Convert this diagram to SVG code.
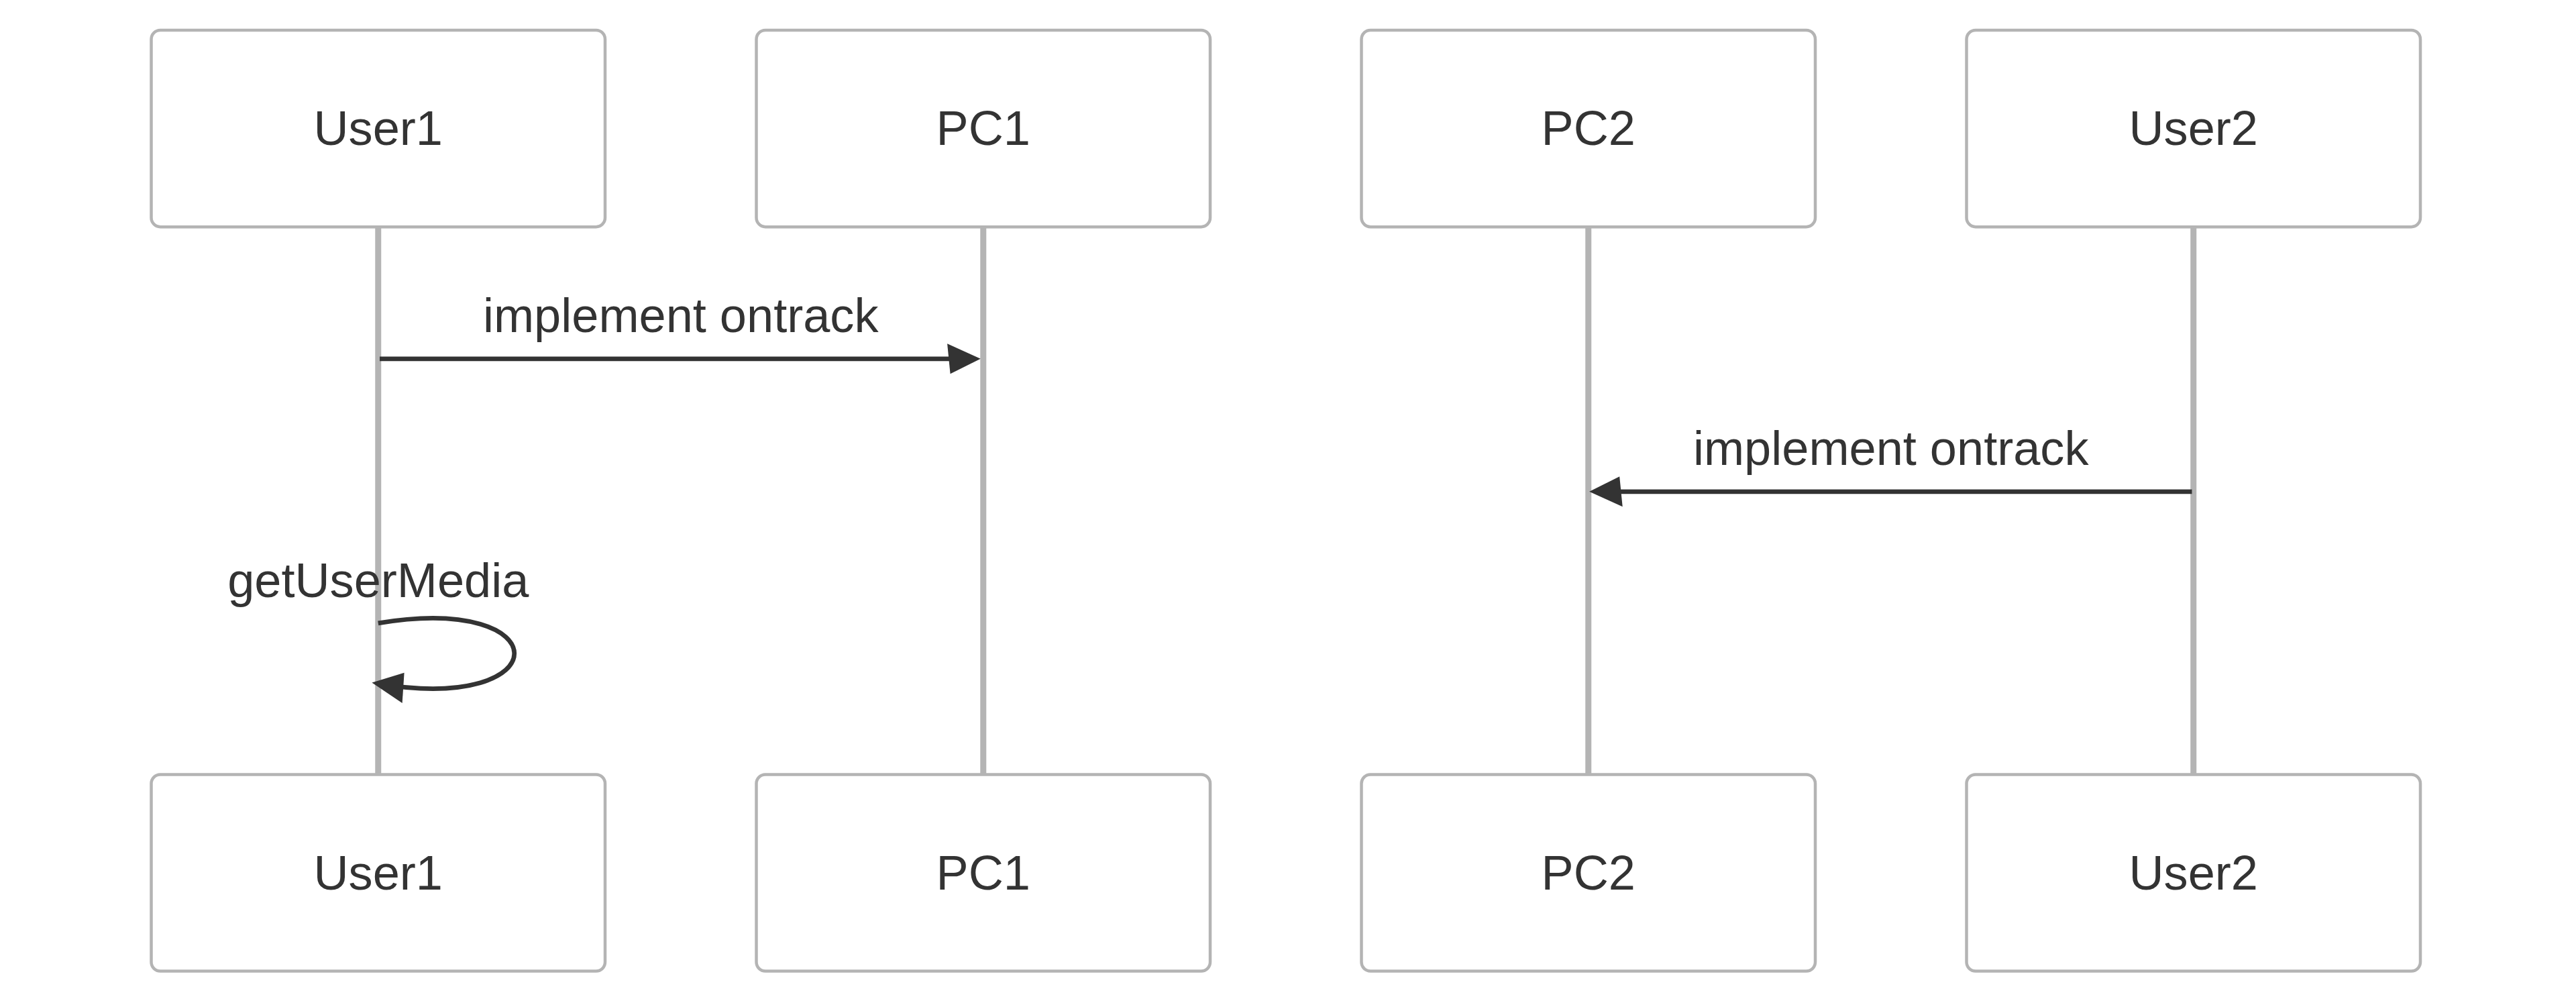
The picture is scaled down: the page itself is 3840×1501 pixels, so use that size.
<svg xmlns="http://www.w3.org/2000/svg" width="3840" height="1501" viewBox="0 0 3840 1501">
<style>
.actor{fill:#ffffff;stroke:#b4b4b4;stroke-width:1}
.atext{font-family:"Liberation Sans",Arial,sans-serif;font-size:16px;fill:#333333;text-anchor:middle}
.life{stroke:#b4b4b4;stroke-width:2;fill:none}
.msg{stroke:#333333;stroke-width:1.5;fill:none}
.mtext{font-family:"Liberation Sans",Arial,sans-serif;font-size:16px;fill:#333333;text-anchor:middle}
</style>
<defs>
<marker id="arrowhead" refX="7.9" refY="5" markerUnits="userSpaceOnUse" markerWidth="12" markerHeight="12" orient="auto" overflow="visible">
<path d="M -1 0 L 10 5 L 0 10 z" fill="#333333"/>
</marker>
</defs>
<rect width="3840" height="1501" fill="#ffffff"/>
<g transform="translate(225.5 45) scale(4.51)">
<g id="lifelines">
<line class="life" x1="75" y1="65" x2="75" y2="246"/>
<line class="life" x1="275" y1="65" x2="275" y2="246"/>
<line class="life" x1="475" y1="65" x2="475" y2="246"/>
<line class="life" x1="675" y1="65" x2="675" y2="246"/>
</g>
<g id="actor-User1-top"><rect class="actor" x="0" y="0" width="150" height="65" rx="3"/><text class="atext" x="75" y="38">User1</text></g>
<g id="actor-PC1-top"><rect class="actor" x="200" y="0" width="150" height="65" rx="3"/><text class="atext" x="275" y="38">PC1</text></g>
<g id="actor-PC2-top"><rect class="actor" x="400" y="0" width="150" height="65" rx="3"/><text class="atext" x="475" y="38">PC2</text></g>
<g id="actor-User2-top"><rect class="actor" x="600" y="0" width="150" height="65" rx="3"/><text class="atext" x="675" y="38">User2</text></g>
<g id="actor-User1-bottom"><rect class="actor" x="0" y="246" width="150" height="65" rx="3"/><text class="atext" x="75" y="284">User1</text></g>
<g id="actor-PC1-bottom"><rect class="actor" x="200" y="246" width="150" height="65" rx="3"/><text class="atext" x="275" y="284">PC1</text></g>
<g id="actor-PC2-bottom"><rect class="actor" x="400" y="246" width="150" height="65" rx="3"/><text class="atext" x="475" y="284">PC2</text></g>
<g id="actor-User2-bottom"><rect class="actor" x="600" y="246" width="150" height="65" rx="3"/><text class="atext" x="675" y="284">User2</text></g>
<g id="connectors">
<text class="mtext" x="175" y="99.8">implement ontrack</text>
<line class="msg" x1="75.5" y1="108.6" x2="272" y2="108.6" marker-end="url(#arrowhead)"/>
<text class="mtext" x="575" y="143.7">implement ontrack</text>
<line class="msg" x1="674.5" y1="152.5" x2="477.4" y2="152.5" marker-end="url(#arrowhead)"/>
<text class="mtext" x="75" y="187.4">getUserMedia</text>
<path class="msg" d="M 75,196 C 135,186 135,226 75,216" marker-end="url(#arrowhead)"/>
</g>
</g>
</svg>
